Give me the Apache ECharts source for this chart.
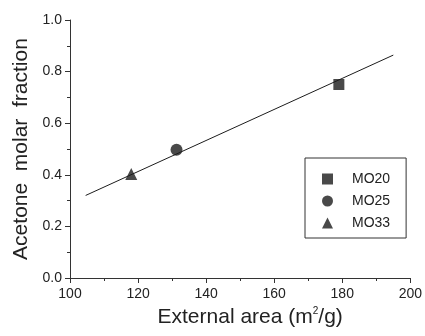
<!DOCTYPE html>
<html><head><meta charset="utf-8">
<script src="https://cdn.jsdelivr.net/npm/echarts@6/dist/echarts.min.js"></script>
<style>html,body{margin:0;padding:0;background:#fff}#c{width:425px;height:336px}</style>
</head><body><div id="c"></div>
<script>
const seriesNames = ['MO20', 'MO25', 'MO33'];
const externalArea = [179, 131.3, 118];
const acetoneFraction = [0.75, 0.497, 0.403];
const fitLineX = [104.6, 195];
const fitLineY = [0.32, 0.864];
const symbols = ['rect', 'circle', 'triangle'];
const symbolSizes = [11, 12, 12];

const chart = echarts.init(document.getElementById('c'), null, {renderer: 'canvas'});
const FONT = 'Liberation Sans, Arial, sans-serif';
const series = seriesNames.map((n, i) => ({
  name: n, type: 'scatter', symbol: symbols[i], symbolSize: symbolSizes[i],
  itemStyle: {color: '#1c1c1c'}, z: 3,
  data: [[externalArea[i], acetoneFraction[i]]]
}));
series.push({
  type: 'line', showSymbol: false, symbol: 'none', silent: true,
  lineStyle: {color: '#1c1c1c', width: 1}, z: 2,
  data: fitLineX.map((x, i) => [x, fitLineY[i]])
});
chart.setOption({
  animation: false,
  grid: {left: 70, right: 13, top: 20, bottom: 58},
  legend: {
    data: seriesNames.map((n, i) => ({name: n, icon: symbols[i]})),
    orient: 'vertical', left: 305, top: 158,
    itemWidth: 11, itemHeight: 11, itemGap: 8,
    padding: [14, 16, 8, 17],
    borderColor: '#333', borderWidth: 1, borderRadius: 0,
    textStyle: {fontFamily: FONT, fontSize: 14, color: '#222', padding: [0, 0, 0, 14], lineHeight: 14},
    itemStyle: {color: '#1c1c1c'}
  },
  xAxis: {
    type: 'value', min: 100, max: 200, interval: 20,
    name: 'External area (m{sup|2}/g)', nameLocation: 'middle', nameGap: 26,
    nameTextStyle: {fontFamily: FONT, fontSize: 21, color: '#222', padding: [0, 0, 0, 20],
      rich: {sup: {fontSize: 10, verticalAlign: 'top', padding: [0, 0, 12, 0], fontFamily: FONT, color: '#222'}}},
    axisLine: {lineStyle: {color: '#333', width: 1}},
    axisTick: {length: 5, lineStyle: {color: '#333'}},
    minorTick: {show: true, splitNumber: 2, length: 3, lineStyle: {color: '#333'}},
    splitLine: {show: false},
    axisLabel: {fontFamily: FONT, fontSize: 14, color: '#222', margin: 9}
  },
  yAxis: {
    type: 'value', min: 0, max: 1, interval: 0.2,
    name: 'Acetone  molar  fraction', nameLocation: 'middle', nameGap: 36,
    nameTextStyle: {fontFamily: FONT, fontSize: 21, color: '#222'},
    axisLine: {show: true, lineStyle: {color: '#333', width: 1}},
    axisTick: {show: true, length: 5, lineStyle: {color: '#333'}},
    minorTick: {show: true, splitNumber: 2, length: 3, lineStyle: {color: '#333'}},
    splitLine: {show: false},
    axisLabel: {fontFamily: FONT, fontSize: 14, color: '#222', margin: 8, formatter: v => v.toFixed(1)}
  },
  series
});
</script></body></html>
